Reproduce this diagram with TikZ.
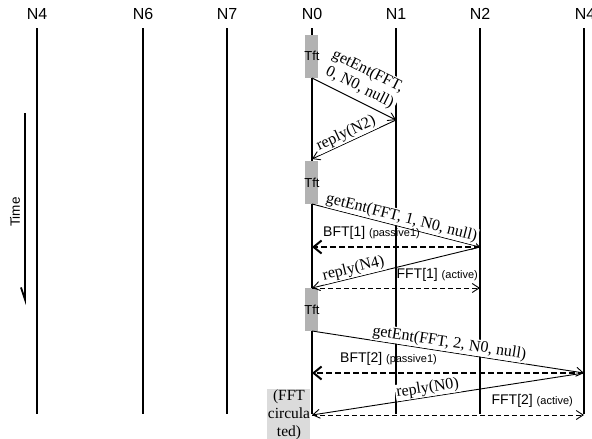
\documentclass[tikz,border=0pt]{standalone}
\usepackage{fontspec}
\setmainfont{Liberation Serif}
\setsansfont{Liberation Sans}
\usetikzlibrary{arrows.meta}
\begin{document}
\begin{tikzpicture}[x=1pt,y=-1pt,
  life/.style={line width=1.4pt},
  msg/.style={line width=0.9pt,-{Straight Barb[length=7pt,width=9pt,line width=0.9pt]}},
  bft/.style={line width=2pt,dash pattern=on 6pt off 3pt,-{Straight Barb[length=8pt,width=13pt,line width=2pt]}},
  fft/.style={line width=0.9pt,dash pattern=on 5pt off 3pt,-{Straight Barb[length=7pt,width=9pt,line width=0.9pt]}},
  head/.style={font=\sffamily\fontsize{16}{18}\selectfont,inner sep=0pt},
  mlbl/.style={font=\fontsize{16}{18}\selectfont,sloped,above,inner sep=1pt,align=center,fill=white},
  slbl/.style={font=\sffamily\fontsize{14}{16}\selectfont,inner sep=1pt},
  tftbox/.style={fill=black!30,draw=none},
  tftlbl/.style={font=\sffamily\fontsize{13}{15}\selectfont,inner sep=0pt},
]
\useasboundingbox (0,0) rectangle (592,439);

% lifeline headers
\node[head] (hN4a) at (37,14) {N4};
\node[head] (hN6) at (143,14) {N6};
\node[head] (hN7) at (227,14) {N7};
\node[head] (hN0) at (312,14) {N0};
\node[head] (hN1) at (396,14) {N1};
\node[head] (hN2) at (480,14) {N2};
\node[head] (hN4b) at (585,14) {N4};

% lifelines
\foreach \x/\n in {37/la,143/lb,227/lc,312/ld,396/le,480/lf,584/lg}{
  \coordinate (\n t) at (\x,28);
  \coordinate (\n b) at (\x,414);
  \draw[life] (\n t) -- (\n b);
}

% Tft boxes
\fill[tftbox] (305,35) rectangle (318,78);
\node[tftlbl] (tft1) at (312,56) {Tft};
\fill[tftbox] (305,161) rectangle (318,204);
\node[tftlbl] (tft2) at (312,183) {Tft};
\fill[tftbox] (305,288) rectangle (318,331);
\node[tftlbl] (tft3) at (312,310) {Tft};

% circulated box
\fill[black!14] (267,389) rectangle (310,439);
\node[font=\fontsize{15.5}{18}\selectfont,align=center,inner sep=0pt] (circ) at (289,415) {(FFT\\circula\\ted)};

% Time arrow
\node[font=\sffamily\fontsize{13.5}{15}\selectfont,rotate=90,inner sep=0pt] (time) at (15,212) {Time};
\coordinate (t0) at (25,113);
\coordinate (t1) at (25,305);
\draw[line width=1.8pt,-{Straight Barb[harpoon,swap,length=12pt,width=8pt,line width=1.8pt]}] (t0) -- (t1);

% message coordinates
\coordinate (a1) at (312,78);
\coordinate (b1) at (396,120);
\coordinate (a2) at (312,159);
\coordinate (a3) at (312,204);
\coordinate (c3) at (480,247);
\coordinate (a3b) at (312,247);
\coordinate (a4) at (312,288);
\coordinate (c4) at (480,288);
\coordinate (a5) at (312,331);
\coordinate (d5) at (584,373);
\coordinate (a5b) at (312,373);
\coordinate (a6) at (312,415);
\coordinate (d6) at (584,415);

% messages
\draw[msg] (a1) -- node[mlbl,pos=0.5,above=4pt] {getEnt(FFT,\\0, N0, null)} (b1);
\draw[msg] (b1) -- node[mlbl,pos=0.55] {reply(N2)} (a2);
\draw[msg] (a3) -- node[mlbl,pos=0.52] {getEnt(FFT, 1, N0, null)} (c3);
\draw[bft] (c3) -- (a3b);
\node[slbl,anchor=south west] (bft1) at (322,241) {BFT[1] {\fontsize{11}{13}\selectfont(passive1)}};
\draw[msg] (c3) -- node[mlbl,pos=0.74] {reply(N4)} (a4);
\draw[fft] (a4) -- (c4);
\node[slbl,anchor=south east] (fft1) at (479,283) {FFT[1] {\fontsize{11}{13}\selectfont(active)}};
\draw[msg] (a5) -- node[mlbl,pos=0.5] {getEnt(FFT, 2, N0, null)} (d5);
\draw[bft] (d5) -- (a5b);
\node[slbl,anchor=south west] (bft2) at (339,367) {BFT[2] {\fontsize{11}{13}\selectfont(passive1)}};
\draw[msg] (d5) -- node[mlbl,pos=0.57] {reply(N0)} (a6);
\draw[fft] (a6) -- (d6);
\node[slbl,anchor=south east] (fft2) at (574,409) {FFT[2] {\fontsize{11}{13}\selectfont(active)}};
\end{tikzpicture}
\end{document}
